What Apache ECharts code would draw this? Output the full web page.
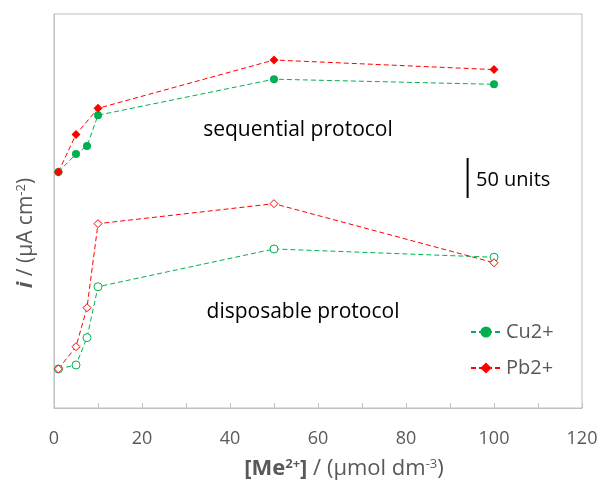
<!DOCTYPE html>
<html>
<head>
<meta charset="utf-8">
<script src="https://cdn.jsdelivr.net/npm/echarts@6/dist/echarts.min.js"></script>
<style>
  html, body { margin: 0; padding: 0; background: #fff; }
  #chart { width: 602px; height: 482px; }
</style>
</head>
<body>
<div id="chart"></div>
<script>
// concentrations of Me2+ (umol dm-3)
const concCu = [1, 5, 7.5, 10, 50, 100]
const concPb = [1, 5, 10, 50, 100]
const concPbDisp = [1, 5, 7.5, 10, 50, 100]

// current, arbitrary offset units (50 units = scale bar)
const cuSequential = [295, 317.5, 327.5, 366, 411, 404.6]
const pbSequential = [295, 342, 374.6, 435, 423]
const cuDisposable = [48.8, 53.8, 88, 151.6, 198.8, 188.4]
const pbDisposable = [48.8, 76.6, 125.4, 230.4, 255.4, 181.6]

// scale bar: x position and y extent (50 units)
const scaleBar = [[94, 262.5], [94, 312.5]]

const xTicks = [0, 20, 40, 60, 80, 100, 120]

const green = '#00b050'
const red = '#ff0000'
const grey = '#595959'
const font = '"Open Sans", sans-serif'

function pairs(xs, ys) {
  return xs.map((x, i) => [x, ys[i]])
}

const chart = echarts.init(document.getElementById('chart'))

chart.setOption({
  backgroundColor: '#fff',
  animation: false,
  grid: {
    show: true,
    left: 54,
    top: 14,
    right: 20,
    bottom: 74,
    outerBoundsMode: 'none',
    containLabel: false,
    borderColor: '#bfbfbf',
    borderWidth: 1
  },
  legend: {
    orient: 'vertical',
    left: 465,
    top: 317,
    itemWidth: 30,
    itemHeight: 14,
    itemGap: 16,
    data: ['Cu2+', 'Pb2+'],
    textStyle: {
      fontFamily: font,
      fontSize: 20,
      color: grey
    }
  },
  xAxis: {
    type: 'value',
    min: 0,
    max: 120,
    interval: 10,
    splitLine: { show: false },
    axisLine: { lineStyle: { color: '#bfbfbf' } },
    axisTick: { inside: true, length: 5, lineStyle: { color: '#bfbfbf' } },
    axisLabel: {
      margin: 22,
      fontFamily: font,
      fontSize: 18,
      color: grey,
      formatter: function (v) {
        return xTicks.indexOf(v) >= 0 ? String(v) : ''
      }
    },
    name: '{b|[Me}{bs|2+}{b|]}{t| / (µmol dm}{s|-3}{t|)}',
    nameLocation: 'middle',
    nameGap: 50,
    nameTextStyle: {
      fontFamily: font,
      fontSize: 22,
      color: grey,
      padding: [0, 0, 0, 52],
      rich: {
        b: { fontFamily: font, fontSize: 22, fontWeight: 'bold', color: grey },
        bs: { fontFamily: font, fontSize: 13, fontWeight: 'bold', color: grey, verticalAlign: 'top' },
        t: { fontFamily: font, fontSize: 22, color: grey },
        s: { fontFamily: font, fontSize: 13, color: grey, verticalAlign: 'top' }
      }
    }
  },
  yAxis: {
    type: 'value',
    min: 0,
    max: 492.5,
    splitLine: { show: false },
    axisLine: { show: true, lineStyle: { color: '#bfbfbf' } },
    axisTick: { show: false },
    axisLabel: { show: false },
    name: '{i|i}{t| / (µA cm}{s|-2}{t|)}',
    nameLocation: 'middle',
    nameRotate: 90,
    nameGap: 17,
    nameTextStyle: {
      fontFamily: font,
      fontSize: 21,
      color: grey,
      padding: [0, 44, 0, 0],
      rich: {
        i: { fontFamily: font, fontSize: 22, fontWeight: 'bold', fontStyle: 'italic', color: grey },
        t: { fontFamily: font, fontSize: 21, color: grey },
        s: { fontFamily: font, fontSize: 13, color: grey, verticalAlign: 'top' }
      }
    }
  },
  graphic: [
    {
      type: 'text', x: 298, y: 130,
      style: { text: 'sequential protocol', textAlign: 'center', textVerticalAlign: 'middle', fontFamily: font, fontSize: 21, fill: '#000' }
    },
    {
      type: 'text', x: 303, y: 312,
      style: { text: 'disposable protocol', textAlign: 'center', textVerticalAlign: 'middle', fontFamily: font, fontSize: 21, fill: '#000' }
    },
    {
      type: 'text', x: 476, y: 180,
      style: { text: '50 units', textAlign: 'left', textVerticalAlign: 'middle', fontFamily: font, fontSize: 20, fill: '#000' }
    }
  ],
  series: [
    {
      name: 'Cu2+',
      type: 'line',
      data: pairs(concCu, cuSequential),
      symbol: 'circle',
      symbolSize: 8,
      itemStyle: { color: green },
      lineStyle: { color: green, width: 1, type: [5, 3] }
    },
    {
      name: 'Pb2+',
      type: 'line',
      data: pairs(concPb, pbSequential),
      symbol: 'diamond',
      symbolSize: [9, 9],
      itemStyle: { color: red },
      lineStyle: { color: red, width: 1, type: [5, 3] }
    },
    {
      name: 'Cu2+ disposable',
      type: 'line',
      data: pairs(concCu, cuDisposable),
      symbol: 'circle',
      symbolSize: 8,
      itemStyle: { color: '#fff', borderColor: green, borderWidth: 1 },
      lineStyle: { color: green, width: 1, type: [5, 3] }
    },
    {
      name: 'Pb2+ disposable',
      type: 'line',
      data: pairs(concPbDisp, pbDisposable),
      symbol: 'diamond',
      symbolSize: [8, 8],
      itemStyle: { color: '#fff', borderColor: red, borderWidth: 1 },
      lineStyle: { color: red, width: 1, type: [5, 3] }
    },
    {
      name: 'scale',
      type: 'line',
      data: scaleBar,
      symbol: 'none',
      lineStyle: { color: '#000', width: 2 },
      silent: true
    }
  ]
})
</script>
</body>
</html>
